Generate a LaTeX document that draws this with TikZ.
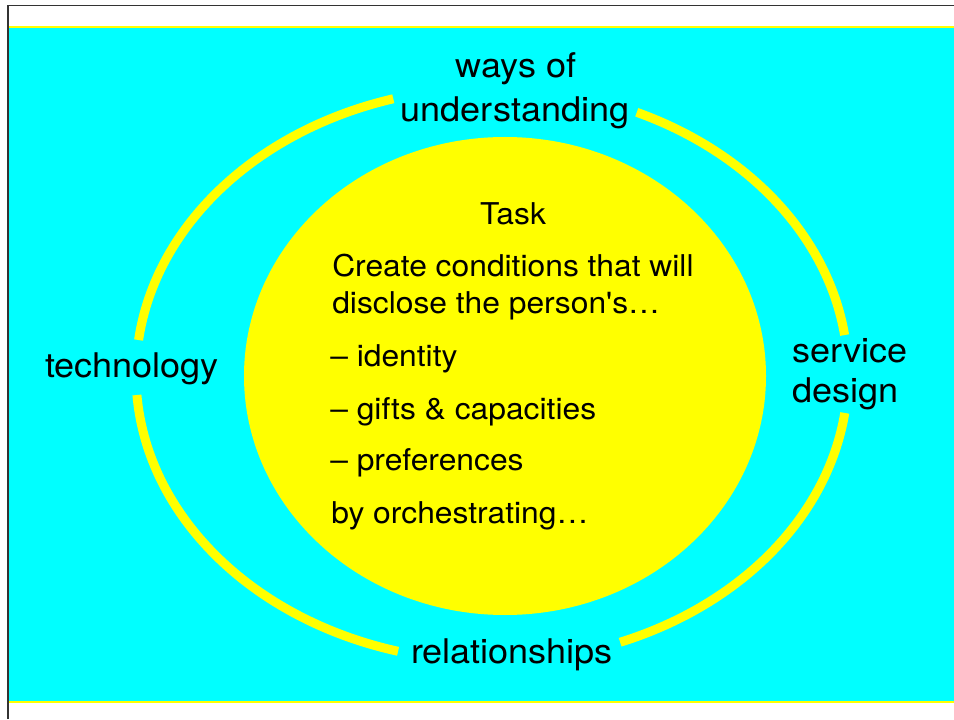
\documentclass[tikz,border=0pt]{standalone}
\usepackage{fontspec}
\newfontfamily\hv{TeX Gyre Heros}[FakeStretch=1.06]
\definecolor{cyanbg}{RGB}{0,255,255}
\definecolor{yel}{RGB}{255,255,0}
\tikzset{
  outerlbl/.style={font=\hv\fontsize{25.5pt}{30pt}\selectfont, inner sep=0pt, anchor=base},
  innerlbl/.style={font=\hv\fontsize{22.5pt}{27pt}\selectfont, inner sep=0pt},
  ring/.style={draw=yel, line width=6.75pt, line cap=butt},
}
\begin{document}
\begin{tikzpicture}[x=0.75pt,y=0.75pt]
\useasboundingbox (0,0) rectangle (954,719);
\fill[white] (0,0) rectangle (954,719);
% background panel
\fill[cyanbg] (8,17) rectangle (954,692);
\draw[yel, line width=1.9pt] (8,692) -- (954,692);
\draw[yel, line width=1.9pt] (8,17) -- (954,17);
\draw[black!80, line width=1.1pt] (8,0) -- (8,713.5) -- (954,713.5);
% inner ellipse
\fill[yel] (505,343) ellipse [x radius=195.75pt, y radius=179.25pt];
% outer ring segments
\coordinate (rc) at (492,344.5);
\draw[ring] (rc) ++(7.9:356 and 287) arc[start angle=7.9, end angle=66.0, x radius=267pt, y radius=215.25pt];
\draw[ring] (rc) ++(106.1:356 and 287) arc[start angle=106.1, end angle=173.1, x radius=267pt, y radius=215.25pt];
\draw[ring] (rc) ++(184.1:356 and 287) arc[start angle=184.1, end angle=254.7, x radius=267pt, y radius=215.25pt];
\draw[ring] (rc) ++(291.1:356 and 287) arc[start angle=291.1, end angle=352.3, x radius=267pt, y radius=215.25pt];
% outer labels
\node[outerlbl] (ways) at (516,641) {ways of};
\node[outerlbl] (underst) at (515,597) {understanding};
\node[outerlbl] (tech) at (132,342) {technology};
\node[outerlbl, anchor=base west] (serv) at (792,357) {service};
\node[outerlbl, anchor=base west] (design) at (792,317) {design};
\node[outerlbl] (rel) at (512,56) {relationships};
% inner text
\node[innerlbl, anchor=base] (task) at (513,494) {Task};
\node[innerlbl, anchor=base west] (l1) at (332,442) {Create conditions that will};
\node[innerlbl, anchor=base west] (l2) at (332,406) {disclose the person's…};
\node[innerlbl, anchor=base west] (l3) at (330,353) {– identity};
\node[innerlbl, anchor=base west] (l4) at (330,300) {– gifts \& capacities};
\node[innerlbl, anchor=base west] (l5) at (330,249) {– preferences};
\node[innerlbl, anchor=base west] (l6) at (331,196) {by orchestrating…};
\end{tikzpicture}
\end{document}
